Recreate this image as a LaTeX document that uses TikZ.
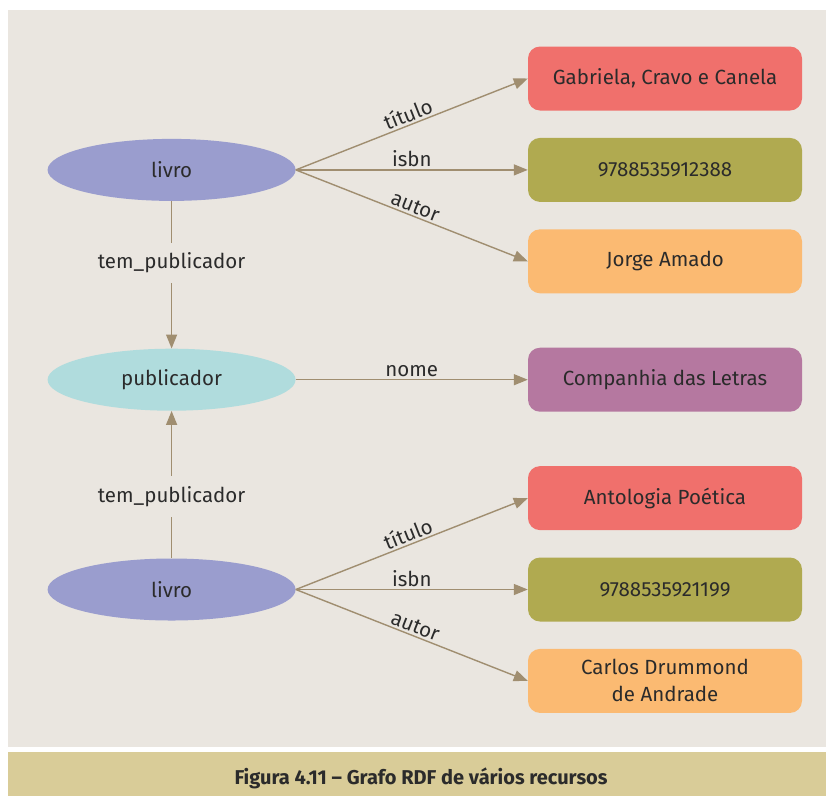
\documentclass[tikz,border=0pt]{standalone}
\usepackage{fontspec}
\setmainfont{Fira Sans}
\usepackage{xcolor}
\usepackage{tikz}
\usetikzlibrary{arrows.meta,positioning,shapes.geometric,backgrounds}

\definecolor{fundo}{RGB}{234,230,224}
\definecolor{legenda}{RGB}{217,204,152}
\definecolor{seta}{RGB}{160,142,112}
\definecolor{texto}{RGB}{43,43,43}
\definecolor{vermelho}{RGB}{240,112,108}
\definecolor{oliva}{RGB}{176,170,80}
\definecolor{laranja}{RGB}{251,186,114}
\definecolor{roxo}{RGB}{181,120,160}
\definecolor{lavanda}{RGB}{154,157,206}
\definecolor{ciano}{RGB}{176,220,221}

\begin{document}
\begin{tikzpicture}[
    x=1pt,y=-1pt,
    node distance=27pt,
    every node/.style={text=texto},
    valor/.style={rounded corners=12pt,align=center,font=\fontsize{20.5}{27}\selectfont,
                  minimum width=274pt,minimum height=64pt,inner sep=0pt},
    recurso/.style={ellipse,minimum width=248pt,minimum height=62pt,inner sep=0pt,
                    font=\fontsize{20.5}{24}\selectfont},
    arr/.style={seta,line width=1.4pt,-{Triangle[length=14pt,width=11pt]}},
    rotulo/.style={font=\fontsize{20.5}{24}\selectfont,inner sep=2pt}
  ]
  \useasboundingbox (0,0) rectangle (826,796);
  \fill[fundo] (8,10) rectangle (826,747);
  \fill[legenda] (8,752) rectangle (826,796);
  \node[font=\bfseries\fontsize{20}{24}\selectfont,anchor=base] (cap) at (421,784)
        {Figura 4.11 -- Grafo RDF de vários recursos};

  % valores (literais)
  \node[valor,fill=vermelho] (tit1) at (665,78.5) {Gabriela, Cravo e Canela};
  \node[valor,fill=oliva,below=of tit1] (isbn1) {9788535912388};
  \node[valor,fill=laranja,below=of isbn1] (aut1) {Jorge Amado};
  \node[valor,fill=roxo,below=54pt of aut1] (nome) {Companhia das Letras};
  \node[valor,fill=vermelho,below=54pt of nome] (tit2) {Antologia Poética};
  \node[valor,fill=oliva,below=of tit2] (isbn2) {9788535921199};
  \node[valor,fill=laranja,below=of isbn2] (aut2) {Carlos Drummond\\de Andrade};

  % recursos
  \node[recurso,fill=lavanda,left=232pt of isbn1] (livro1) {livro};
  \node[recurso,fill=ciano,left=232pt of nome] (pub) {publicador};
  \node[recurso,fill=lavanda,left=232pt of isbn2] (livro2) {livro};

  \draw[arr] (livro1.east) -- node[rotulo,sloped,above] {título} (tit1.west);
  \draw[arr] (livro1.east) -- node[rotulo,above] {isbn} (isbn1.west);
  \draw[arr] (livro1.east) -- node[rotulo,sloped,above] {autor} (aut1.west);
  \draw[arr] (pub.east) -- node[rotulo,above] {nome} (nome.west);
  \draw[arr] (livro2.east) -- node[rotulo,sloped,above] {título} (tit2.west);
  \draw[arr] (livro2.east) -- node[rotulo,above] {isbn} (isbn2.west);
  \draw[arr] (livro2.east) -- node[rotulo,sloped,above] {autor} (aut2.west);

  \draw[arr] (livro1) -- node[rotulo,pos=0.42,fill=fundo,inner ysep=10pt] {tem\_publicador} (pub);
  \draw[arr] (livro2) -- node[rotulo,pos=0.42,fill=fundo,inner ysep=10pt] {tem\_publicador} (pub);
\end{tikzpicture}
\end{document}
